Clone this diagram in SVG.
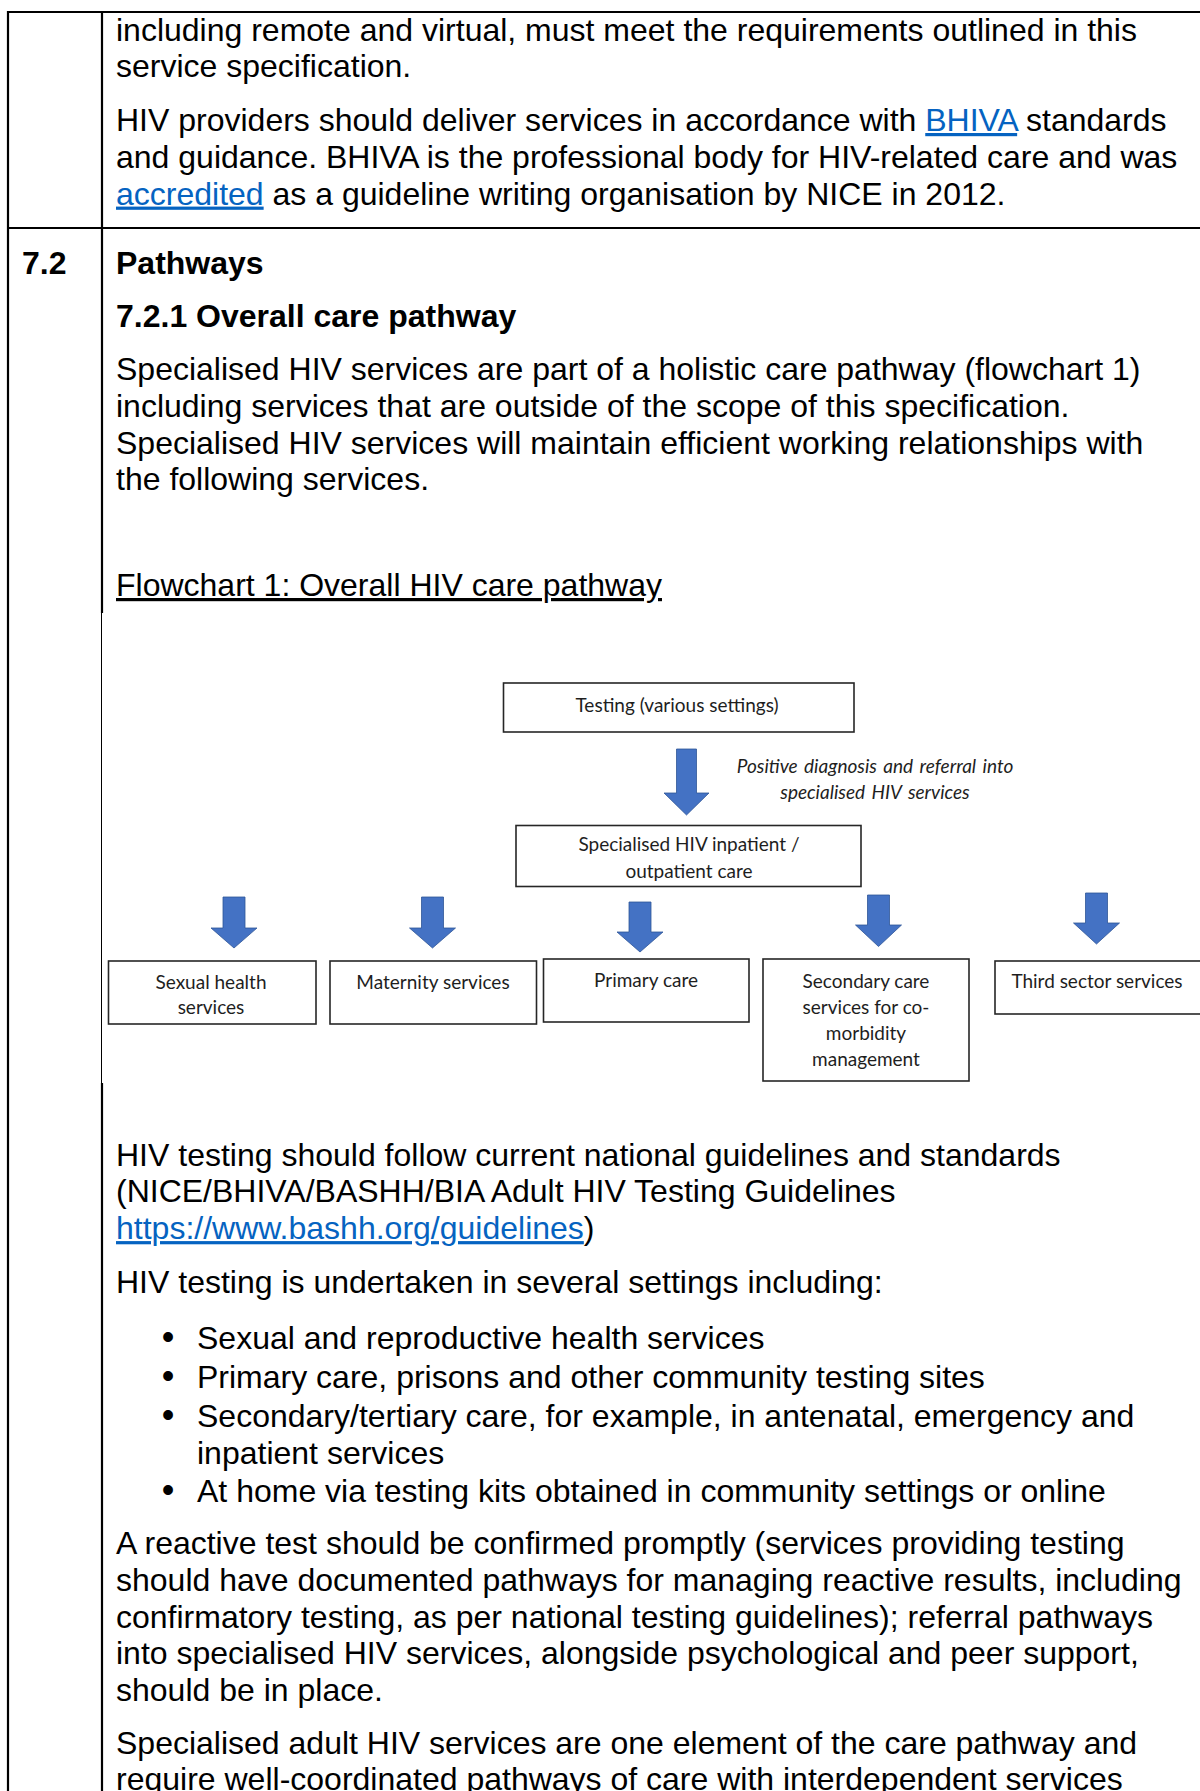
<svg xmlns="http://www.w3.org/2000/svg" width="1200" height="1791" viewBox="0 0 1200 1791">
<style>
.t{font-family:"Liberation Sans",Arial,sans-serif;font-size:32px;fill:#000}
.b{font-weight:bold}
.lnk{fill:#0563C1;text-decoration:underline}
.u{text-decoration:underline}
.bul{font-size:36px}
.fc{font-family:Lato,"Open Sans",sans-serif;font-size:19px;fill:#1e1e1e;text-anchor:middle}
.fi{font-style:italic;word-spacing:2px}
.box{fill:#fff;stroke:#262626;stroke-width:1.6}
.arr{fill:#4472C4;stroke:#2F5597;stroke-width:0.8}
.grid{stroke:#000;stroke-width:2.2;fill:none}
</style>
<rect width="1200" height="1791" fill="#fff"/>

<g id="table-grid">
  <line class="grid" x1="7" y1="12" x2="1200" y2="12"/>
  <line class="grid" x1="7" y1="228" x2="1200" y2="228"/>
  <line class="grid" x1="8" y1="11" x2="8" y2="1791"/>
  <line class="grid" x1="102" y1="11" x2="102" y2="613"/>
  <line class="grid" x1="102" y1="1083" x2="102" y2="1791"/>
  <line stroke="#000" stroke-width="1" x1="101.5" y1="613" x2="101.5" y2="1083"/>
</g>

<g id="row1-text" class="t">
  <text x="116" y="40.5">including remote and virtual, must meet the requirements outlined in this</text>
  <text x="116" y="77.3">service specification.</text>
  <text x="116" y="131">HIV providers should deliver services in accordance with <tspan class="lnk">BHIVA</tspan> standards</text>
  <text x="116" y="167.8">and guidance. BHIVA is the professional body for HIV-related care and was</text>
  <text x="116" y="204.6"><tspan class="lnk">accredited</tspan> as a guideline writing organisation by NICE in 2012.</text>
</g>

<g id="row2-text" class="t">
  <text x="22" y="274" class="b">7.2</text>
  <text x="116" y="274" class="b">Pathways</text>
  <text x="116" y="326.5" class="b">7.2.1 Overall care pathway</text>
  <text x="116" y="380">Specialised HIV services are part of a holistic care pathway (flowchart 1)</text>
  <text x="116" y="416.8">including services that are outside of the scope of this specification.</text>
  <text x="116" y="453.6">Specialised HIV services will maintain efficient working relationships with</text>
  <text x="116" y="490.4">the following services.</text>
  <text x="116" y="596" class="u">Flowchart 1: Overall HIV care pathway</text>
</g>

<g id="connectors">
  <path class="arr" d="M676.5,749 H696.5 V793 H709 L686.5,815 L664,793 H676.5 Z"/>
  <path class="arr" d="M223,897 H245 V928 H257 L234,948 L211,928 H223 Z"/>
  <path class="arr" d="M421.5,897 H443.5 V928 H455.5 L432.5,948 L409.5,928 H421.5 Z"/>
  <path class="arr" d="M629,902 H651 V932 H663 L640,952 L617,932 H629 Z"/>
  <path class="arr" d="M867.5,895 H889.5 V925 H901.5 L878.5,946.5 L855.5,925 H867.5 Z"/>
  <path class="arr" d="M1085.5,893 H1107.5 V923 H1119.5 L1096.5,944 L1073.5,923 H1085.5 Z"/>
  <text class="fc fi" x="875" y="772.5">Positive  diagnosis  and  referral  into</text>
  <text class="fc fi" x="875" y="798.5">specialised  HIV services</text>
</g>

<g id="node-testing">
  <rect class="box" x="503.5" y="683" width="350.5" height="49"/>
  <text class="fc" x="677" y="711.5">Testing (various settings)</text>
</g>
<g id="node-specialised">
  <rect class="box" x="516" y="825.5" width="345" height="61"/>
  <text class="fc" x="689" y="851">Specialised HIV inpatient  /</text>
  <text class="fc" x="689" y="878">outpatient  care</text>
</g>
<g id="node-sexual-health">
  <rect class="box" x="108.5" y="961" width="207.5" height="63"/>
  <text class="fc" x="211" y="988.5">Sexual health</text>
  <text class="fc" x="211" y="1014">services</text>
</g>
<g id="node-maternity">
  <rect class="box" x="330" y="961" width="206.5" height="63"/>
  <text class="fc" x="433" y="988.5">Maternity services</text>
</g>
<g id="node-primary">
  <rect class="box" x="543.5" y="959" width="205.5" height="63"/>
  <text class="fc" x="646" y="986.5">Primary care</text>
</g>
<g id="node-secondary">
  <rect class="box" x="763" y="959" width="206" height="122"/>
  <text class="fc" x="866" y="987.5">Secondary care</text>
  <text class="fc" x="866" y="1013.5">services for co-</text>
  <text class="fc" x="866" y="1039.5">morbidity</text>
  <text class="fc" x="866" y="1065.5">management</text>
</g>
<g id="node-third-sector">
  <rect class="box" x="995" y="961" width="215" height="53"/>
  <text class="fc" x="1097" y="987.5">Third sector services</text>
</g>

<g id="row2-text-lower" class="t">
  <text x="116" y="1165.5">HIV testing should follow current national guidelines and standards</text>
  <text x="116" y="1202.3">(NICE/BHIVA/BASHH/BIA Adult HIV Testing Guidelines</text>
  <text x="116" y="1239.1"><tspan class="lnk">https://www.bashh.org/guidelines</tspan>)</text>
  <text x="116" y="1293">HIV testing is undertaken in several settings including:</text>
  <text class="bul" x="168" y="1349" text-anchor="middle">•</text>
  <text x="197" y="1349">Sexual and reproductive health services</text>
  <text class="bul" x="168" y="1388" text-anchor="middle">•</text>
  <text x="197" y="1388">Primary care, prisons and other community testing sites</text>
  <text class="bul" x="168" y="1427" text-anchor="middle">•</text>
  <text x="197" y="1427">Secondary/tertiary care, for example, in antenatal, emergency and</text>
  <text x="197" y="1463.8">inpatient services</text>
  <text class="bul" x="168" y="1502" text-anchor="middle">•</text>
  <text x="197" y="1502">At home via testing kits obtained in community settings or online</text>
  <text x="116" y="1554">A reactive test should be confirmed promptly (services providing testing</text>
  <text x="116" y="1590.8">should have documented pathways for managing reactive results, including</text>
  <text x="116" y="1627.6">confirmatory testing, as per national testing guidelines); referral pathways</text>
  <text x="116" y="1664.4">into specialised HIV services, alongside psychological and peer support,</text>
  <text x="116" y="1701.2">should be in place.</text>
  <text x="116" y="1753.5">Specialised adult HIV services are one element of the care pathway and</text>
  <text x="116" y="1789.5">require well-coordinated pathways of care with interdependent services</text>
</g>
</svg>
